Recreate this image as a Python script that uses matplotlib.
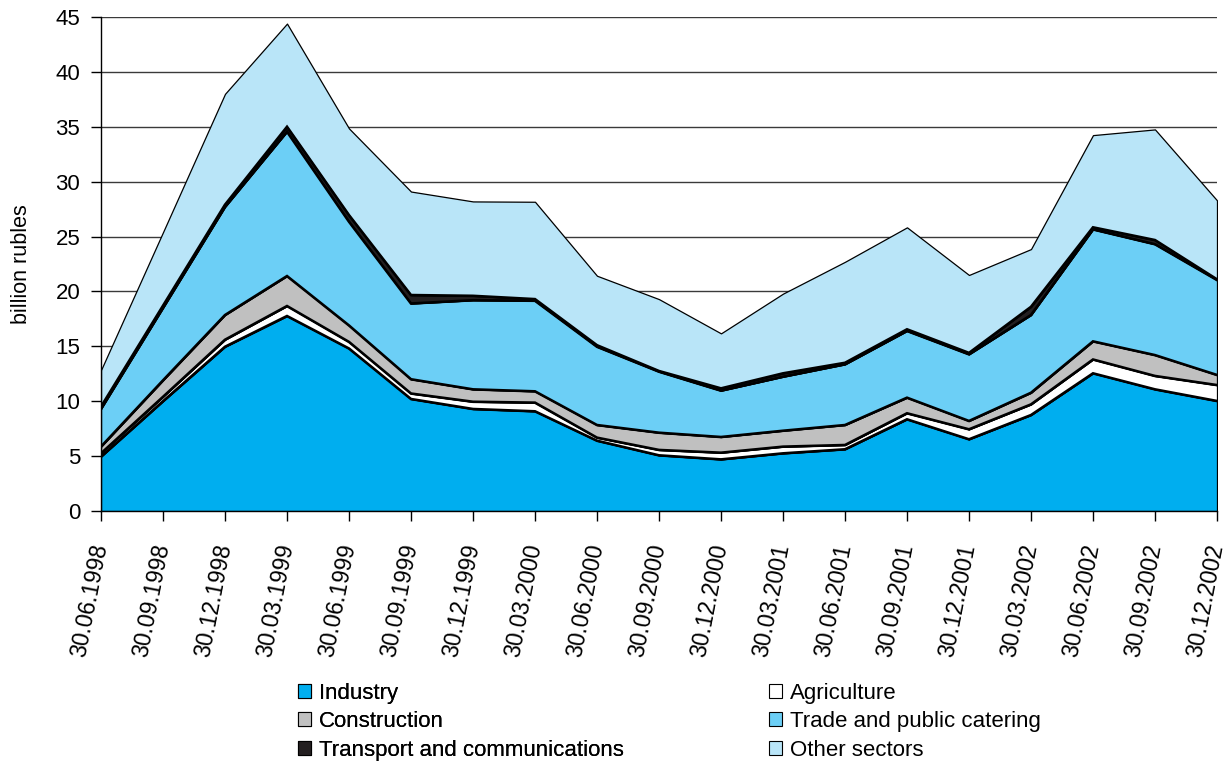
import numpy as np
import matplotlib
matplotlib.use("Agg")
import matplotlib.pyplot as plt
import matplotlib.transforms as mtransforms
from matplotlib.patches import Patch

plt.rcParams['font.family'] = ['Liberation Sans', 'DejaVu Sans']

dates = ["30.06.1998", "30.09.1998", "30.12.1998", "30.03.1999", "30.06.1999",
         "30.09.1999", "30.12.1999", "30.03.2000", "30.06.2000", "30.09.2000",
         "30.12.2000", "30.03.2001", "30.06.2001", "30.09.2001", "30.12.2001",
         "30.03.2002", "30.06.2002", "30.09.2002", "30.12.2002"]

# billion rubles
industry = [4.95, 10.0, 14.96, 17.76, 14.8, 10.2, 9.29, 9.08, 6.4, 5.07,
            4.7, 5.25, 5.62, 8.35, 6.53, 8.74, 12.54, 11.08, 10.02]
agriculture = [0.3, 0.4, 0.64, 0.91, 0.6, 0.5, 0.66, 0.79, 0.28, 0.49,
               0.61, 0.61, 0.39, 0.55, 0.91, 0.97, 1.26, 1.22, 1.45]
construction = [0.61, 1.5, 2.25, 2.73, 1.5, 1.3, 1.13, 1.03, 1.15, 1.57,
                1.43, 1.45, 1.82, 1.42, 0.76, 1.06, 1.65, 1.9, 0.92]
trade = [3.44, 6.6, 9.85, 13.15, 9.45, 6.9, 8.12, 8.25, 7.13, 5.56,
         4.22, 4.92, 5.53, 6.08, 6.07, 7.08, 10.2, 10.1, 8.65]
transport = [0.2, 0.2, 0.2, 0.45, 0.6, 0.77, 0.4, 0.15, 0.14, 0.06,
             0.21, 0.31, 0.14, 0.15, 0.13, 0.75, 0.19, 0.38, 0.06]
other = [3.34, 6.7, 10.1, 9.4, 7.9, 9.43, 8.6, 8.87, 6.33, 6.55,
         5.01, 7.26, 9.2, 9.29, 7.1, 5.26, 8.4, 10.08, 7.2]

labels = ["Industry", "Agriculture", "Construction", "Trade and public catering",
          "Transport and communications", "Other sectors"]
colors = ["#00aeef", "#ffffff", "#c0c0c0", "#6ccff6", "#231f20", "#b9e5f8"]

series = np.array([industry, agriculture, construction, trade, transport, other])
x = np.arange(len(dates))

fig = plt.figure(figsize=(12.32, 7.64), dpi=100)
ax = fig.add_axes([101/1232, 1-511/764, 1116/1232, 494/764])

ax.stackplot(x, series, colors=colors, edgecolor="black", linewidth=0.9)
tops = np.cumsum(series, axis=0)
for row in tops[:-1]:
    ax.plot(x, row, color="black", lw=1.9, solid_joinstyle="miter")

ax.set_xlim(0, len(dates) - 1)
ax.set_ylim(0, 45)
ax.set_yticks(np.arange(0, 46, 5))
ax.yaxis.grid(True, color="#3a3a3a", lw=1.0)
ax.set_axisbelow(True)
for s in ["top", "right"]:
    ax.spines[s].set_visible(False)
for s in ["left", "bottom"]:
    ax.spines[s].set_linewidth(1.0)

ax.set_xticks(x)
ax.set_xticklabels(dates, rotation=79, ha="right", va="center",
                   rotation_mode="anchor", fontsize=16.5)
shift = mtransforms.ScaledTranslation(7/100, 0, fig.dpi_scale_trans)
for lab in ax.get_xticklabels():
    lab.set_transform(lab.get_transform() + shift)
ax.tick_params(axis="x", length=7, width=1, pad=17)
ax.tick_params(axis="y", length=7, width=1, pad=8, labelsize=16)
ax.set_ylabel("billion rubles", fontsize=15.5, labelpad=17)

handles = [Patch(facecolor=c, edgecolor="black", lw=0.8) for c in colors]
legend_kw = dict(loc="upper left", frameon=False, fontsize=16,
                 handlelength=0.6, handleheight=0.6, handletextpad=0.35,
                 labelspacing=0.33, borderaxespad=0)
leg1 = fig.legend(handles[0::2], labels[0::2],
                  bbox_to_anchor=(289/1232, 1-674/764), **legend_kw)
fig.add_artist(leg1)
fig.legend(handles[1::2], labels[1::2],
           bbox_to_anchor=(760/1232, 1-674/764), **legend_kw)

fig.savefig("out.png", dpi=100)
